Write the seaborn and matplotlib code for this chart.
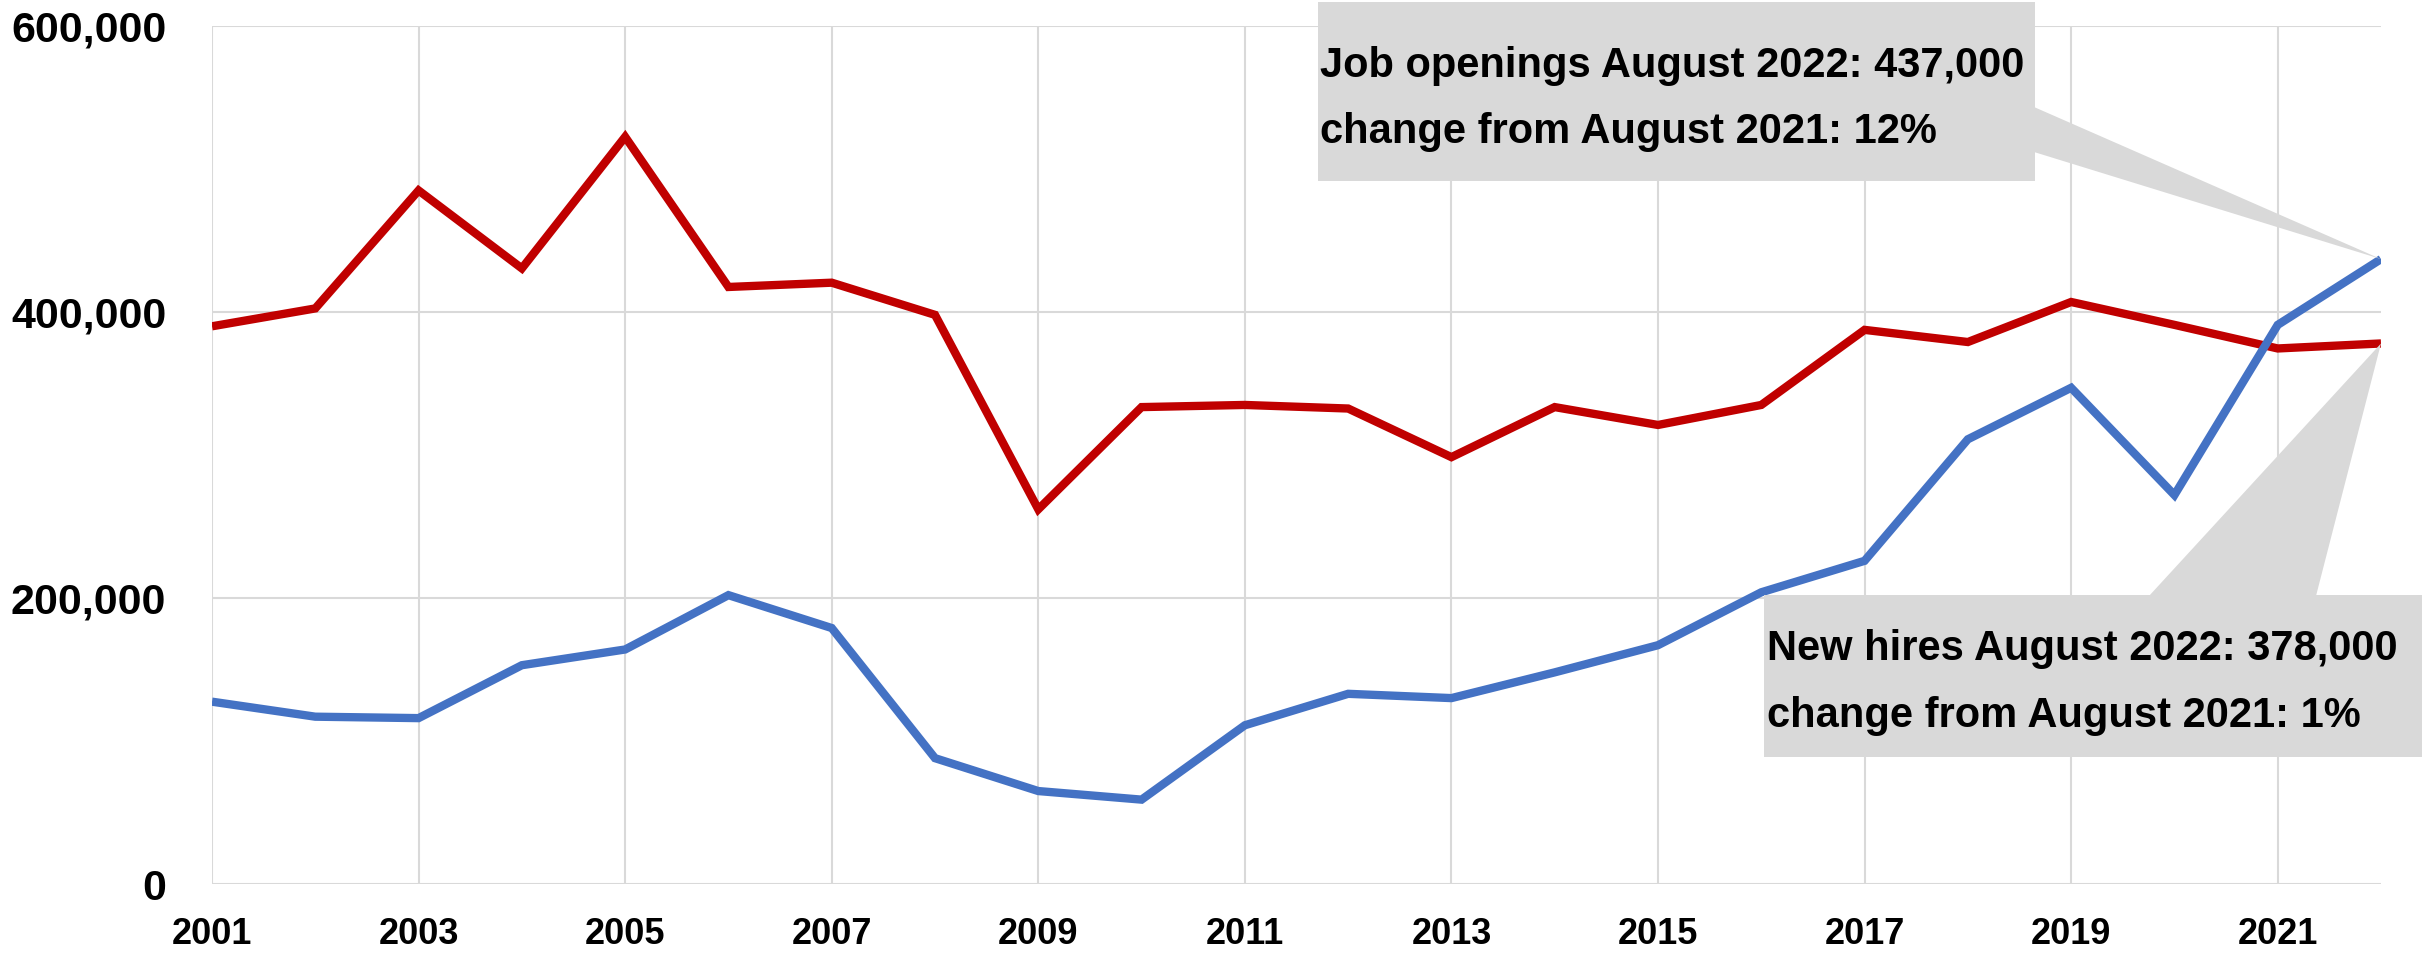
import numpy as np
import pandas as pd
import seaborn as sns
import matplotlib
matplotlib.use("Agg")
import matplotlib.pyplot as plt
from matplotlib.patches import Polygon, Rectangle
from matplotlib.transforms import IdentityTransform
from matplotlib.ticker import FuncFormatter

# ---- data ----
years = list(range(2001, 2023))
job_openings = [127500, 117000, 116000, 153000, 164000, 202000, 179000, 88000,
                65000, 59000, 111000, 133000, 130000, 148000, 167000, 204000,
                226000, 311000, 347000, 272000, 391000, 437000]
new_hires = [390000, 402500, 485000, 430500, 522500, 417500, 420500, 398000,
             262000, 333500, 335000, 332500, 298500, 333500, 321000, 335000,
             387500, 379000, 407000, 391000, 374500, 378000]
x_ticks = [2001, 2003, 2005, 2007, 2009, 2011, 2013, 2015, 2017, 2019, 2021]
y_ticks = [0, 200000, 400000, 600000]
callout_openings = ["Job openings August 2022: 437,000",
                    "change from August 2021: 12%"]
callout_hires = ["New hires August 2022: 378,000",
                 "change from August 2021: 1%"]

W, H = 2422, 959
sns.set_theme(style="white")
plt.rcParams["font.family"] = ["Liberation Sans", "DejaVu Sans"]

fig = plt.figure(figsize=(W / 100, H / 100), dpi=100)
L, R, T, B = 212, 2381, 26, 884
ax = fig.add_axes([L / W, (H - B) / H, (R - L) / W, (B - T) / H])

df = pd.DataFrame({"year": years, "Job openings": job_openings, "New hires": new_hires})
long = df.melt("year", var_name="series", value_name="value")
sns.lineplot(data=long, x="year", y="value", hue="series",
             hue_order=["New hires", "Job openings"],
             palette={"Job openings": "#4472C4", "New hires": "#C00000"},
             linewidth=6, legend=False, ax=ax, solid_joinstyle="miter",
             solid_capstyle="butt")

ax.set_xlim(2001, 2022)
ax.set_ylim(0, 600000)
ax.set_xticks(x_ticks)
ax.set_yticks(y_ticks)
ax.yaxis.set_major_formatter(FuncFormatter(lambda v, p: f"{v:,.0f}"))
ax.set_xlabel("")
ax.set_ylabel("")
ax.grid(True, color="#D9D9D9", linewidth=1.5)
ax.set_axisbelow(True)
for s in ax.spines.values():
    s.set_visible(False)
ax.tick_params(axis="x", direction="out", length=9.5, width=1.5, color="#D9D9D9",
               pad=14, labelsize=26, labelcolor="black")
ax.tick_params(axis="y", length=0, pad=33, labelsize=31, labelcolor="black")
for lab in ax.get_xticklabels() + ax.get_yticklabels():
    lab.set_fontweight("bold")

# ---- callouts ----
box_col = "#D9D9D9"
ident = IdentityTransform()
tip_open = ax.transData.transform((years[-1], job_openings[-1]))
tip_hire = ax.transData.transform((years[-1], new_hires[-1]))

fig.add_artist(Rectangle((1318, H - 181), 717, 179, transform=ident,
                         facecolor=box_col, edgecolor="none", zorder=5))
fig.add_artist(Polygon([(2034, H - 107), (2034, H - 152), tuple(tip_open)],
                       closed=True, transform=ident, facecolor=box_col,
                       edgecolor="none", zorder=5))
fig.add_artist(Rectangle((1764, H - 757), 658, 162, transform=ident,
                         facecolor=box_col, edgecolor="none", zorder=5))
fig.add_artist(Polygon([(2149, H - 596), (2316, H - 596), tuple(tip_hire)],
                       closed=True, transform=ident, facecolor=box_col,
                       edgecolor="none", zorder=5))

tkw = dict(fontsize=30, fontweight="bold", color="black", ha="left",
           va="baseline", zorder=6)
fig.text(1320 / W, (H - 77) / H, callout_openings[0], **tkw)
fig.text(1320 / W, (H - 143) / H, callout_openings[1], **tkw)
fig.text(1767 / W, (H - 660) / H, callout_hires[0], **tkw)
fig.text(1767 / W, (H - 727) / H, callout_hires[1], **tkw)

fig.savefig("out.png", dpi=100)
